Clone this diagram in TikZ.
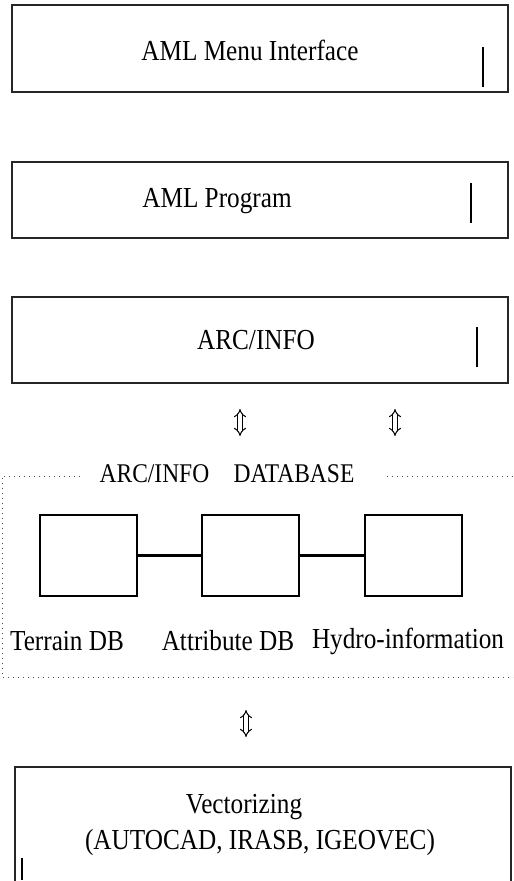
\documentclass[tikz,border=0pt]{standalone}
\usepackage{fontspec}
\setmainfont{Liberation Serif}[FakeStretch = 0.87]
\usepackage{tikz}
\usetikzlibrary{arrows.meta}
\usetikzlibrary{positioning}
\tikzstyle{pixel} = [x = 0.5pt, y = -0.5pt]
\tikzstyle{layer} = [draw = black!85, line width = 0.6pt, minimum width = 248pt, inner sep = 0pt]
\tikzstyle{dbbox} = [draw = black, line width = 0.9pt, minimum width = 48.5pt, minimum height = 40.5pt, inner sep = 0pt]
\tikzstyle{caption} = [font = \fontsize{14.5}{17}\selectfont, inner sep = 0pt]
\tikzstyle{link} = [line width = 1.1pt]
\tikzstyle{updown} = [double, double distance = 1.6pt, line width = 0.5pt, {Implies}-{Implies}]
\tikzstyle{dbframe} = [dotted, line width = 0.5pt, color = black!70]
\tikzstyle{cursorline} = [line width = 0.7pt]

\begin{document}
\begin{tikzpicture}[pixel]
		\useasboundingbox (0, 0) rectangle (513, 881);
		% Layers
		\node[layer, minimum height = 43.5pt] (menu) at (260, 48.5) {};
		\node[layer, minimum height = 38pt] (program) at (260, 200) {};
		\node[layer, minimum height = 43pt] (arcinfo) at (260, 340) {};
		\node[caption] (menuText) at (250, 50) {AML Menu Interface};
		\node[caption] (programText) at (217, 201) {AML Program};
		\node[caption] (arcinfoText) at (256, 340) {ARC/INFO};
		% Vertical strokes
		\draw[cursorline] (483, 47) -- (483, 87);
		\draw[cursorline] (471, 183) -- (471, 223);
		\draw[cursorline] (477, 327) -- (477, 367);
		% Arrows
		\coordinate (upA) at (240, 409);
		\coordinate (downA) at (240, 436);
		\coordinate (upB) at (395, 409);
		\coordinate (downB) at (395, 436);
		\coordinate (upC) at (246, 710);
		\coordinate (downC) at (246, 737);
		\draw[updown] (upA) -- (downA);
		\draw[updown] (upB) -- (downB);
		\draw[updown] (upC) -- (downC);
		% Database frame
		\node[caption, font = \fontsize{13.5}{16}\selectfont] (dbTitle) at (227, 474) {ARC/INFO\hspace{0.9em}DATABASE};
		\coordinate (frameTL) at (2, 476);
		\coordinate (frameBL) at (2, 677);
		\coordinate (frameBR) at (513, 677);
		\coordinate (frameTR) at (513, 476);
		\draw[dbframe] (80, 476) -- (frameTL) -- (frameBL) -- (frameBR);
		\draw[dbframe] (387, 476) -- (frameTR);
		% Databases
		\node[dbbox] (terrain) at (88.5, 555.5) {};
		\node[dbbox] (attribute) at (250.5, 555.5) {};
		\node[dbbox] (hydro) at (413.5, 555.5) {};
		\draw[link] (terrain) -- (attribute);
		\draw[link] (attribute) -- (hydro);
		\node[caption] (terrainText) at (67, 641) {Terrain DB};
		\node[caption] (attributeText) at (228, 641) {Attribute DB};
		\node[caption] (hydroText) at (408, 641) {Hydro-information};
		% Vectorizing
		\coordinate (vecBL) at (15, 881);
		\coordinate (vecTL) at (15, 767);
		\coordinate (vecTR) at (511, 767);
		\coordinate (vecBR) at (511, 881);
		\draw[draw = black!85, line width = 0.6pt] (vecBL) -- (vecTL) -- (vecTR) -- (vecBR);
		\node[caption] (vecTitle) at (244, 807) {Vectorizing};
		\node[caption] (vecTools) at (260, 843) {(AUTOCAD, IRASB, IGEOVEC)};
		\draw[cursorline] (22, 858) -- (22, 880);
	\end{tikzpicture}
\end{document}
